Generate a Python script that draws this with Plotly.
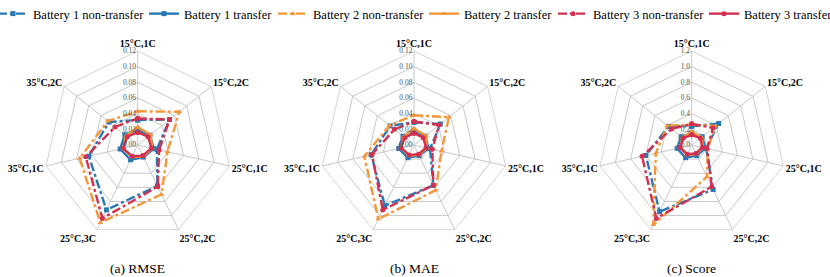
import plotly.graph_objects as go

categories = ["15°C,1C", "15°C,2C", "25°C,1C", "25°C,2C", "25°C,3C", "35°C,1C", "35°C,2C"]

# RMSE
rmse_b1_nt = [0.032, 0.052, 0.025, 0.058, 0.092, 0.064, 0.047]
rmse_b1_t = [0.019, 0.020, 0.021, 0.017, 0.021, 0.023, 0.021]
rmse_b2_nt = [0.043, 0.068, 0.039, 0.070, 0.110, 0.076, 0.049]
rmse_b2_t = [0.023, 0.021, 0.019, 0.016, 0.017, 0.019, 0.019]
rmse_b3_nt = [0.034, 0.052, 0.028, 0.059, 0.104, 0.068, 0.037]
rmse_b3_t = [0.016, 0.017, 0.018, 0.015, 0.016, 0.019, 0.017]

# MAE
mae_b1_nt = [0.029, 0.043, 0.021, 0.057, 0.086, 0.056, 0.039]
mae_b1_t = [0.017, 0.018, 0.019, 0.015, 0.018, 0.020, 0.018]
mae_b2_nt = [0.038, 0.057, 0.036, 0.064, 0.105, 0.065, 0.040]
mae_b2_t = [0.021, 0.019, 0.017, 0.014, 0.015, 0.017, 0.017]
mae_b3_nt = [0.030, 0.041, 0.024, 0.057, 0.092, 0.055, 0.032]
mae_b3_t = [0.015, 0.015, 0.016, 0.013, 0.014, 0.017, 0.015]

# Score
score_b1_nt = [0.24, 0.44, 0.19, 0.63, 0.945, 0.60, 0.38]
score_b1_t = [0.15, 0.17, 0.18, 0.15, 0.18, 0.19, 0.17]
score_b2_nt = [0.26, 0.39, 0.21, 0.45, 1.13, 0.47, 0.40]
score_b2_t = [0.17, 0.16, 0.15, 0.13, 0.14, 0.15, 0.15]
score_b3_nt = [0.27, 0.35, 0.20, 0.59, 1.04, 0.65, 0.33]
score_b3_t = [0.13, 0.14, 0.14, 0.12, 0.13, 0.15, 0.14]

series_names = ["Battery 1 non-transfer", "Battery 1 transfer",
                "Battery 2 non-transfer", "Battery 2 transfer",
                "Battery 3 non-transfer", "Battery 3 transfer"]
subplot_titles = ["(a) RMSE", "(b) MAE", "(c) Score"]
radial_max = [0.12, 0.12, 1.2]
radial_dtick = [0.02, 0.02, 0.2]
radial_fmt = [".2f", ".2f", ".1f"]

panels = [
    [rmse_b1_nt, rmse_b1_t, rmse_b2_nt, rmse_b2_t, rmse_b3_nt, rmse_b3_t],
    [mae_b1_nt, mae_b1_t, mae_b2_nt, mae_b2_t, mae_b3_nt, mae_b3_t],
    [score_b1_nt, score_b1_t, score_b2_nt, score_b2_t, score_b3_nt, score_b3_t],
]

BLUE = "#2a78b4"
ORANGE = "#f5963a"
RED = "#d3304f"
colors = [BLUE, BLUE, ORANGE, ORANGE, RED, RED]
symbols = ["square", "square", "triangle-up", "triangle-up", "circle", "circle"]
dashes = ["dashdot", "solid", "dashdot", "solid", "dashdot", "solid"]

SERIF = "Liberation Serif"
W, H = 830, 277
centers_x = [137.7, 414.0, 691.7]
center_y = 145.0
R = 94.0
legend_text_x = [33, 184, 313, 464, 593, 744]
legend_text_y = 14

fig = go.Figure()
for p, data in enumerate(panels):
    sub = "polar" if p == 0 else f"polar{p+1}"
    for i, vals in enumerate(data):
        fig.add_trace(go.Scatterpolar(
            r=list(vals) + [vals[0]],
            theta=categories + [categories[0]],
            mode="lines+markers",
            name=series_names[i],
            legendgroup=series_names[i],
            legend="legend" if i == 0 else f"legend{i+1}",
            showlegend=(p == 0),
            line=dict(color=colors[i], width=2.4, dash=dashes[i]),
            marker=dict(symbol=symbols[i], size=5, color=colors[i]),
            subplot=sub,
        ))

layout = dict(
    width=W, height=H,
    margin=dict(l=0, r=0, t=0, b=0, autoexpand=False),
    paper_bgcolor="white",
    plot_bgcolor="white",
    font=dict(family=SERIF, color="black"),
    annotations=[],
)
for i in range(6):
    key = "legend" if i == 0 else f"legend{i+1}"
    layout[key] = dict(orientation="h", x=(legend_text_x[i] - 40) / W, xanchor="left",
                       y=1 - legend_text_y / H, yanchor="middle",
                       font=dict(family=SERIF, size=12.5), bgcolor="rgba(0,0,0,0)",
                       borderwidth=0)
for p in range(3):
    key = "polar" if p == 0 else f"polar{p+1}"
    cx = centers_x[p]
    layout[key] = dict(
        domain=dict(x=[(cx - R) / W, (cx + R) / W],
                    y=[(H - center_y - R) / H, (H - center_y + R) / H]),
        gridshape="linear",
        bgcolor="white",
        radialaxis=dict(range=[0, radial_max[p]], dtick=radial_dtick[p], tick0=0,
                        tickformat=radial_fmt[p], angle=90, tickangle=90,
                        side="counterclockwise",
                        showline=False, ticks="", gridcolor="#c8c8c8", gridwidth=0.8,
                        tickfont=dict(family=SERIF, size=7.5, color="#555555")),
        angularaxis=dict(direction="clockwise", rotation=90, ticks="",
                         showline=True, linecolor="#c8c8c8", linewidth=0.8,
                         gridcolor="#c8c8c8", gridwidth=0.8,
                         tickfont=dict(family=SERIF, size=10, color="black", weight="bold")),
    )
    layout["annotations"].append(dict(
        text=subplot_titles[p], x=cx / W, y=(H - 268) / H, xref="paper", yref="paper",
        showarrow=False, xanchor="center", yanchor="middle",
        font=dict(family=SERIF, size=13.5, color="black")))

fig.update_layout(**layout)
fig.write_html("out.html",
               config={"displayModeBar": False},
               post_script="document.body.style.margin='0';document.body.style.overflow='hidden';")
